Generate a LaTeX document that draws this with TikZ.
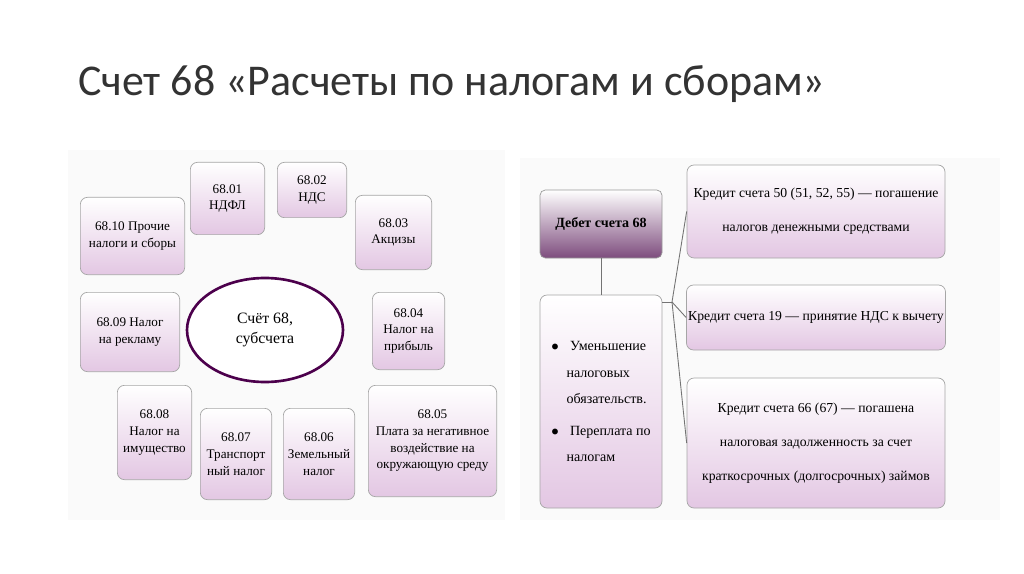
\documentclass[tikz,border=0pt]{standalone}
\usepackage{fontspec}
\usetikzlibrary{shapes.geometric}
\setmainfont{Liberation Serif}
\newfontfamily\titlefont{Carlito}
\begin{document}
\begin{tikzpicture}[x=0.02cm,y=-0.02cm,
  bx/.style={draw=black!35,rounded corners=4pt,top color=white,bottom color=violet!22!white,align=center,font=\fontsize{7.5pt}{9.5pt}\selectfont,inner sep=1pt},
  rb/.style={bx,font=\fontsize{7.8pt}{9.5pt}\selectfont},
  dk/.style={draw=black!40,rounded corners=3pt,top color=white,bottom color=violet!55!black!70,align=center,font=\bfseries\fontsize{8pt}{10pt}\selectfont},
  ln/.style={draw=black!55,line width=0.5pt}]
\useasboundingbox (0,0) rectangle (1024,574);
\node[anchor=west,font=\titlefont\fontsize{25pt}{28pt}\selectfont,text=black!80] (title) at (72,84) {Счет 68 «Расчеты по налогам и сборам»};
\fill[black!2] (68,150) rectangle (505,520);
\fill[black!2] (520,158) rectangle (1000,520);
\newcommand\bxat[6]{\node[bx,minimum width=#3*0.02cm-0.4pt,minimum height=#4*0.02cm-0.4pt] (#5) at (#1,#2) {#6};}
\bxat{227.5}{198.5}{75}{73}{a01}{68.01\\НДФЛ}
\bxat{312}{190}{70}{56}{a02}{68.02\\НДС}
\bxat{393.5}{232.5}{77}{75}{a03}{68.03\\Акцизы}
\bxat{132.5}{236}{105}{78}{a10}{68.10 Прочие\\налоги и сборы}
\bxat{130}{332}{100}{80}{a09}{68.09 Налог\\на рекламу}
\bxat{408.5}{331}{73}{78}{a04}{68.04\\Налог на\\прибыль}
\bxat{154.5}{432.5}{75}{95}{a08}{68.08\\Налог на\\имущество}
\bxat{236}{454}{72}{92}{a07}{68.07\\Транспорт\\ный налог}
\bxat{319}{454}{72}{92}{a06}{68.06\\Земельный\\налог}
\bxat{432.5}{441}{129}{112}{a05}{68.05\\Плата за негативное\\воздействие на\\окружающую среду}
\node[draw=violet!60!black,line width=1.5pt,ellipse,fill=white,minimum width=156*0.02cm,minimum height=104*0.02cm,align=center,font=\fontsize{9pt}{11pt}\selectfont] (c) at (265,330) {Счёт 68,\\субсчета};
\node[dk,minimum width=122*0.02cm,minimum height=68*0.02cm] (deb) at (601,224) {Дебет счета 68};
\node[bx,minimum width=122*0.02cm,minimum height=213*0.02cm,align=left,font=\fontsize{8pt}{10pt}\selectfont] (big) at (601,401.5) {$\bullet$\;\; Уменьшение\\[5pt]\phantom{$\bullet$\;\;}налоговых\\[5pt]\phantom{$\bullet$\;\;}обязательств.\\[8pt]$\bullet$\;\; Переплата по\\[5pt]\phantom{$\bullet$\;\;}налогам};
\node[rb,minimum width=258*0.02cm,minimum height=93*0.02cm] (r1) at (816,211.5) {Кредит счета 50 (51, 52, 55) — погашение\\[10pt]налогов денежными средствами};
\node[rb,minimum width=258*0.02cm,minimum height=65*0.02cm] (r2) at (816,317.5) {Кредит счета 19 — принятие НДС к вычету};
\node[rb,minimum width=258*0.02cm,minimum height=130*0.02cm] (r3) at (816,443) {Кредит счета 66 (67) — погашена\\[10pt]налоговая задолженность за счет\\[10pt]краткосрочных (долгосрочных) займов};
\draw[ln] (deb.south) -- (big.north);
\coordinate (hub) at (672,302);
\draw[ln] (hub) -- (r1.west);
\draw[ln] (hub) -- (r2.west);
\draw[ln] (hub) -- (r3.west);
\draw[ln] (big.east |- hub) -- (hub);
\end{tikzpicture}
\end{document}
